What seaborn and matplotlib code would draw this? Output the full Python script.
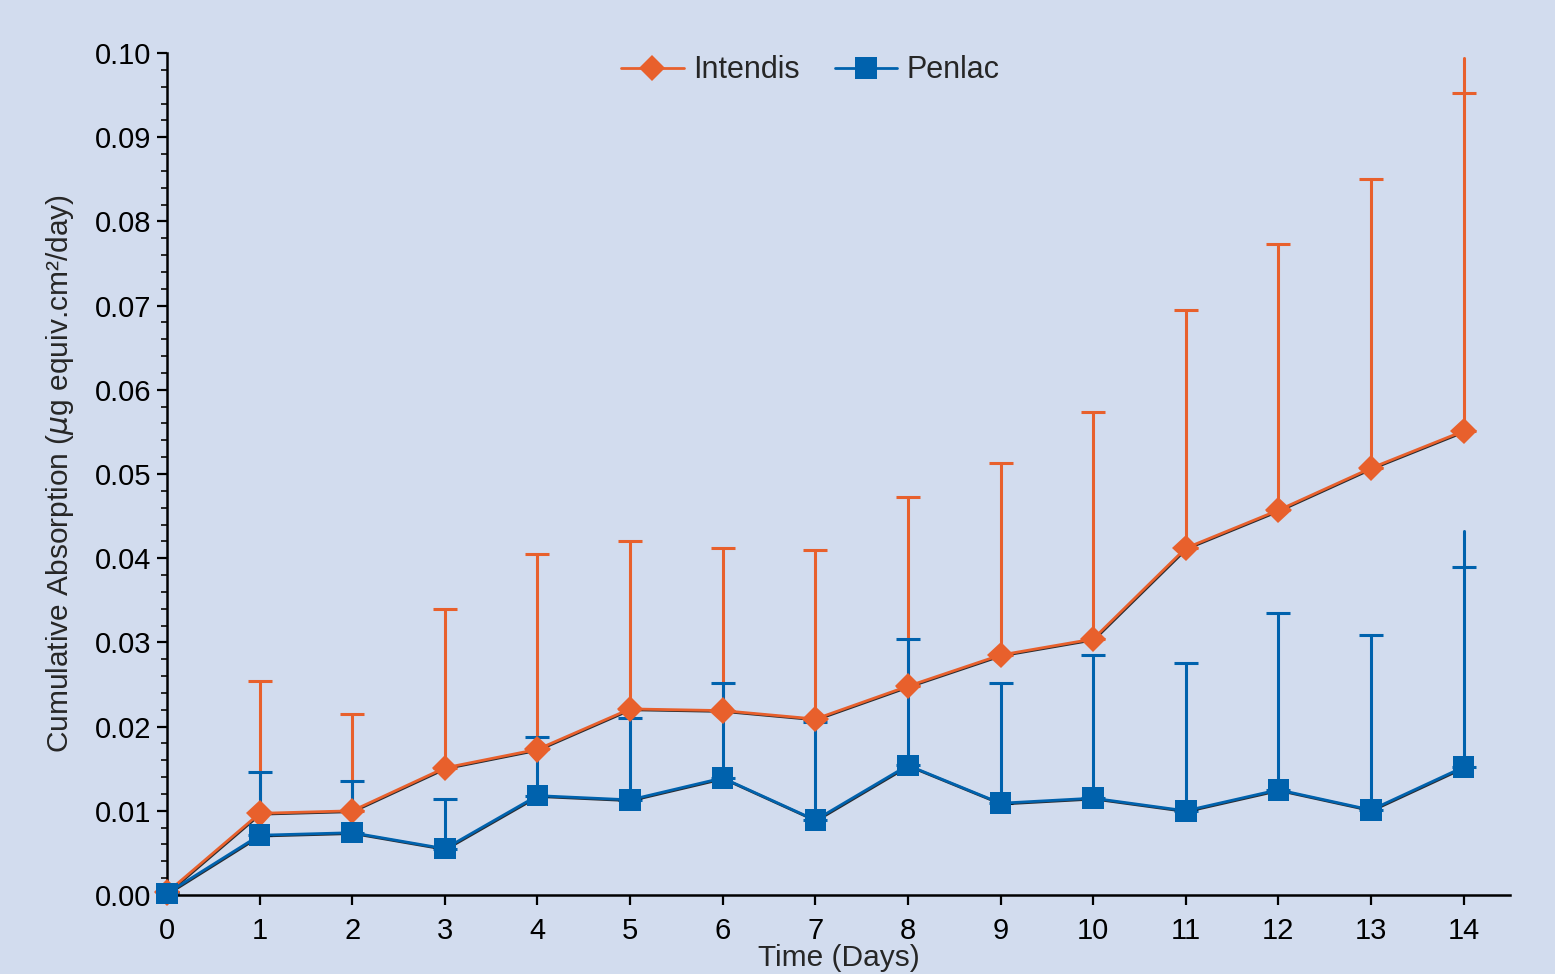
import numpy as np
import pandas as pd
import matplotlib
matplotlib.use("Agg")
import matplotlib.pyplot as plt
import matplotlib.patheffects as pe
from matplotlib.ticker import MultipleLocator, FormatStrFormatter
import seaborn as sns

# values
days = [0, 1, 2, 3, 4, 5, 6, 7, 8, 9, 10, 11, 12, 13, 14]
intendis_mean = [0.0003, 0.0097, 0.0100, 0.0151, 0.0173, 0.0221, 0.0219, 0.0209,
                 0.0248, 0.0285, 0.0304, 0.0412, 0.0457, 0.0507, 0.0551]
intendis_upper = [0.0003, 0.0254, 0.0215, 0.0340, 0.0405, 0.0420, 0.0412, 0.0410,
                  0.0473, 0.0513, 0.0574, 0.0695, 0.0773, 0.0850, 0.0952]
penlac_mean = [0.0002, 0.0071, 0.0074, 0.0055, 0.0118, 0.0113, 0.0139, 0.0089,
               0.0154, 0.0109, 0.0115, 0.0100, 0.0125, 0.0101, 0.0152]
penlac_upper = [0.0002, 0.0146, 0.0135, 0.0114, 0.0188, 0.0210, 0.0252, 0.0205,
                0.0304, 0.0252, 0.0285, 0.0276, 0.0335, 0.0309, 0.0390]
# day 14 bars run a little past their caps in the original
intendis_extra_top = 0.0994
penlac_extra_top = 0.0432

orange = "#E8602C"
blue = "#0062AD"
bg = "#D2DCEE"

sns.set_theme(style="ticks")
plt.rcParams["font.family"] = ["Liberation Sans", "DejaVu Sans"]

df = pd.DataFrame({
    "Day": days * 2,
    "Value": intendis_mean + penlac_mean,
    "Product": ["Intendis"] * len(days) + ["Penlac"] * len(days),
})

fig = plt.figure(figsize=(15.55, 9.74), dpi=100, facecolor=bg)
ax = fig.add_axes([0.1074, 0.0811, 0.8636, 0.8645])
ax.set_facecolor(bg)

shadow = [pe.SimpleLineShadow(offset=(0.6, -0.6), shadow_color="black", alpha=0.8), pe.Normal()]

# upper-only error bars
for mean, upper, extra, col in [(intendis_mean, intendis_upper, intendis_extra_top, orange),
                                (penlac_mean, penlac_upper, penlac_extra_top, blue)]:
    err = np.array(upper) - np.array(mean)
    ax.errorbar(days, mean, yerr=[np.zeros(len(days)), err], fmt="none", ecolor=col,
                elinewidth=2.2, capsize=8.5, capthick=2.2, zorder=2)
    ax.plot([days[-1], days[-1]], [upper[-1], extra], color=col, lw=2.2, zorder=2)

sns.lineplot(data=df, x="Day", y="Value", hue="Product", style="Product",
             palette={"Intendis": orange, "Penlac": blue},
             markers={"Intendis": "D", "Penlac": "s"}, dashes=False,
             markersize=15, markeredgewidth=0, linewidth=2.0, ax=ax,
             legend=False, zorder=3, clip_on=False)

for ln in ax.lines[-2:]:
    ln.set_path_effects(shadow)
    ln.set_clip_on(False)
ax.lines[-2].set_markersize(13.5)
ax.lines[-1].set_markersize(15.5)

ax.set_xlim(0, 14.5)
ax.set_ylim(0, 0.10)
ax.xaxis.set_major_locator(MultipleLocator(1))
ax.yaxis.set_major_locator(MultipleLocator(0.01))
ax.yaxis.set_minor_locator(MultipleLocator(0.002))
ax.yaxis.set_major_formatter(FormatStrFormatter("%.2f"))

for s in ["top", "right"]:
    ax.spines[s].set_visible(False)
for s in ["left", "bottom"]:
    ax.spines[s].set_linewidth(1.8)
    ax.spines[s].set_color("black")

ax.tick_params(axis="both", which="major", direction="out", length=7, width=1.6,
               labelsize=21, colors="black", pad=4)
ax.tick_params(axis="y", which="minor", direction="out", length=4, width=1.4)
ax.tick_params(axis="x", pad=9)

ax.set_xlabel("Time (Days)", fontsize=21.5, labelpad=-1)
ax.set_ylabel("Cumulative Absorption ($\\mu$g equiv.cm²/day)", fontsize=21.5, labelpad=14)

handles = [
    plt.Line2D([], [], color=orange, marker="D", markersize=13.5, markeredgewidth=0, lw=2),
    plt.Line2D([], [], color=blue, marker="s", markersize=15.5, markeredgewidth=0, lw=2),
]
ax.legend(handles, ["Intendis", "Penlac"], loc="upper center", bbox_to_anchor=(0.479, 1.03),
          ncol=2, frameon=False, fontsize=22, handlelength=2.05, columnspacing=1.15,
          handletextpad=0.3)

fig.savefig("out.png", dpi=100, facecolor=bg)
